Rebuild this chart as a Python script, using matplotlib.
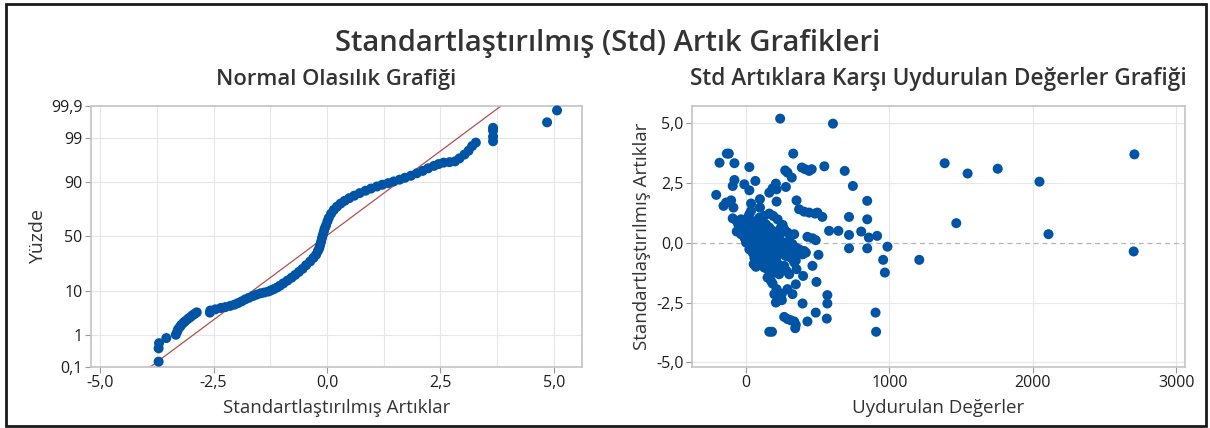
import matplotlib
matplotlib.use("Agg")
import matplotlib.pyplot as plt
from matplotlib.patches import Rectangle
from statistics import NormalDist

plt.rcParams["font.family"] = ["Open Sans", "DejaVu Sans"]

# --- normal probability plot: standardized residual vs. percent ---
qq_resid = [-3.71, -3.71, -3.70, -3.54, -3.33, -3.30, -3.28, -3.24, -3.21, -3.16,
            -3.12, -3.06, -3.01, -2.96, -2.91, -2.87, -2.58, -2.57, -2.46, -2.34,
            -2.24, -2.13, -2.04, -1.96, -1.88, -1.80, -1.72, -1.63, -1.55, -1.46,
            -1.38, -1.29, -1.23, -1.17, -1.10, -1.04, -0.96, -0.87, -0.78, -0.70,
            -0.62, -0.54, -0.46, -0.37, -0.30, -0.24, -0.20, -0.17, -0.15, -0.13,
            -0.11, -0.09, -0.07, -0.05, -0.02, 0.01, 0.04, 0.09, 0.15, 0.22,
            0.30, 0.39, 0.49, 0.60, 0.72, 0.85, 0.97, 1.10, 1.22, 1.35,
            1.47, 1.60, 1.72, 1.85, 1.98, 2.11, 2.23, 2.36, 2.46, 2.57,
            2.70, 2.82, 2.92, 3.03, 3.12, 3.20, 3.28, 3.66, 3.66, 3.66,
            3.66, 4.85, 5.07]
qq_pct = [0.15, 0.40, 0.57, 0.80, 0.99, 1.20, 1.40, 1.60, 1.80, 2.05,
          2.25, 2.55, 2.80, 3.10, 3.35, 3.60, 3.55, 3.95, 4.20, 4.50,
          4.70, 5.00, 5.30, 5.70, 6.20, 6.80, 7.30, 7.90, 8.40, 8.90,
          9.20, 9.60, 10.1, 10.6, 11.3, 12.1, 13.3, 14.8, 16.4, 18.1,
          20.0, 22.1, 24.8, 27.7, 30.5, 33.2, 36.5, 39.0, 42.0, 45.0,
          48.5, 51.5, 54.5, 57.5, 60.5, 64.0, 67.0, 70.5, 73.5, 76.0,
          78.2, 80.1, 81.8, 83.3, 84.8, 86.1, 87.2, 88.2, 89.0, 89.7,
          90.4, 91.1, 91.8, 92.5, 93.3, 94.0, 94.7, 95.3, 95.7, 96.0,
          96.1, 96.25, 96.8, 97.4, 97.9, 98.4, 98.7, 98.8, 99.1, 99.4,
          99.5, 99.66, 99.86]
fit_mu = -0.03
fit_sigma = 1.249
pct_ticks = [0.1, 1, 10, 50, 90, 99, 99.9]
pct_labels = ["0,1", "1", "10", "50", "90", "99", "99,9"]

# --- residuals vs fitted values ---
fitted = [238, 606, -134, -120, -185, -81, 23, 329, 273, 289,
          319, 389, 412, 440, 458, 546, 688, 745, 845, 845,
          718, 718, 718, 845, 803, 644, 579, 856, 914, 986,
          956, 968, 903, 907, 1208, 1385, 1545, 1755, 1466, 2046,
          2109, 2708, 2703,
          -208, -157, -139, -104, -88, -93, -81, -12, 23, 65,
          97, 97, 35, -93, -65, -51, -65, 162, 185, 208,
          213, 278, 213, 352, 162, 190, 220, 255, 266, 289,
          370, 405, 440, 481, 498, 532, 428, 463, 486, 312,
          336, 417, 394, 370, 347, 505, 463, 491, 398, 352,
          336, 347, 324, 394, 486, 567, 567, 563, 428, 312,
          336, 347, 343, 266, 289, 162, 181, 208, 231, 250,
          197, 213, 250, 289, 174, 185, 150, 69, 53, 81,
          -58, -35, -12, 12, 23, 35, -46, -23, 0, 23,
          46, 69, 93, 127, -35, -12, 12, 35, 58, 81,
          104, 139, 162, 185, 208, 231, 0, 23, 46, 69,
          93, 116, 139, 174, 197, 220, 243, 266, 301, 324,
          347, 370, 405, 23, 46, 69, 93, 116, 139, 162,
          185, 208, 243, 278, 312, 347, 58, 81, 104, 127,
          150, 174, 197, 220, 243, 266, 282, 301, 231, 197,
          150, 127, 162, 116, 220, 289, 150, 35, 243, 266,
          312,
          10, 30, 60, 80, 100, 120, 130, 150, 170, 190,
          200, 60, -20, -10, 110, 220, 250, 180, 140]
std_resid = [5.17, 4.96, 3.71, 3.71, 3.33, 3.31, 3.15, 3.71, 3.01, 2.92,
             2.71, 3.13, 3.06, 2.99, 3.06, 3.18, 2.99, 2.36, 1.74, 0.97,
             1.07, 0.32, -0.24, -0.24, 0.46, 0.49, 0.49, 0.21, 0.28, -0.17,
             -0.72, -1.25, -2.92, -3.72, -0.72, 3.31, 2.88, 3.08, 0.81, 2.54,
             0.35, 3.68, -0.37,
             1.99, 1.53, 1.67, 1.76, 1.46, 2.36, 2.61, 2.43, 2.18, 2.57,
             1.81, 1.46, 1.63, 1.01, 0.90, 0.69, 0.46, 2.08, 2.26, 2.46,
             2.22, 2.32, 1.71, 1.76, 1.21, 1.11, 0.97, 0.74, 0.56, 0.42,
             1.39, 1.29, 1.25, 1.21, 1.25, 1.07, 0.24, 0.18, 0.10, 0.28,
             0.35, -0.42, -0.49, -0.46, -0.51, -0.51, -0.97, -1.64, -1.39, -1.11,
             -0.83, -1.74, -2.15, -2.54, -2.92, -2.19, -2.54, -3.17, -3.29, -3.24,
             -3.29, -3.43, -3.57, -3.10, -3.19, -3.72, -3.72, -2.50, -2.40, -2.40,
             -2.15, -1.94, -2.13, -1.94, -1.60, -1.71, -1.46, -1.01, -0.90, -0.74,
             0.83, 0.97, 0.90, 1.04, 1.18, 1.32, 0.56, 0.69, 0.49, 0.63,
             0.76, 0.90, 1.04, 1.11, 0.35, 0.21, 0.28, 0.38, 0.46, 0.56,
             0.65, 0.76, 0.63, 0.49, 0.35, 0.24, 0.00, -0.10, -0.04, 0.04,
             0.10, 0.14, 0.21, 0.18, 0.00, 0.07, -0.07, 0.00, 0.07, -0.07,
             -0.21, -0.28, -0.35, -0.28, -0.42, -0.35, -0.24, -0.32, -0.21, -0.42,
             -0.28, -0.49, -0.42, -0.56, -0.63, -0.74, -0.63, -0.56, -0.69, -0.83,
             -0.74, -0.90, -1.01, -0.88, -1.11, -0.97, -1.18, -1.32, -1.32, -1.25,
             -1.11, -1.04, -0.07, -0.07, -0.21, -0.28, 0.42, 0.14, 0.63, -0.21,
             -0.42,
             0.35, 0.15, -0.15, 0.30, -0.45, 0.45, -0.55, 0.05, -0.60, 0.30,
             -0.75, 0.60, 0.55, 0.75, 0.80, -0.55, -0.30, -1.15, -0.90]

blue = "#0054a6"
grid_c = "#e6e6e6"
spine_c = "#c3c3c3"
text_c = "#333333"

fig = plt.figure(figsize=(12.1, 4.28), dpi=100)
fig.patch.set_facecolor("white")
fig.patches.append(Rectangle((0.005, 0.005), 0.992, 0.985, transform=fig.transFigure,
                             fill=False, edgecolor="#1a1a1a", linewidth=2))

fig.text(0.502, 0.899, "Standartlaştırılmış (Std) Artık Grafikleri", ha="center",
         va="center", fontsize=21, fontweight="semibold", color=text_c)

nd = NormalDist()


def style(ax):
    for s in ax.spines.values():
        s.set_color(spine_c)
        s.set_linewidth(1.2)
    ax.tick_params(length=4, width=0.8, color="#999999", labelsize=11.5,
                   labelcolor="#1e1e1e", pad=2)
    ax.set_axisbelow(True)


# left: normal probability plot
ax1 = fig.add_axes([0.0752, 0.143, 0.4058, 0.609])
style(ax1)
ax1.set_xlim(-5.2, 5.62)
ax1.set_ylim(nd.inv_cdf(0.001), nd.inv_cdf(0.999))
for v in [-5, -3.75, -2.5, -1.25, 0, 1.25, 2.5, 3.75, 5]:
    ax1.axvline(v, color=grid_c, lw=0.8, zorder=0)
zt = [nd.inv_cdf(p / 100) for p in pct_ticks]
for z in zt[1:-1]:
    ax1.axhline(z, color=grid_c, lw=0.8, zorder=0)
ax1.set_yticks(zt)
ax1.set_yticklabels(pct_labels)
ax1.set_xticks([-5, -2.5, 0, 2.5, 5])
ax1.set_xticklabels(["-5,0", "-2,5", "0,0", "2,5", "5,0"])
lx = [-6, 6]
ax1.plot(lx, [(x - fit_mu) / fit_sigma for x in lx], color="#b0524c", lw=0.9, zorder=2)
ax1.scatter(qq_resid, [nd.inv_cdf(p / 100) for p in qq_pct], s=52, color=blue,
            edgecolors="none", zorder=3, clip_on=False)
ax1.set_title("Normal Olasılık Grafiği", fontsize=15.8, fontweight="semibold",
              color=text_c, pad=15)
ax1.set_xlabel("Standartlaştırılmış Artıklar", fontsize=13.5, color=text_c, labelpad=6)
ax1.set_ylabel("Yüzde", fontsize=14, color=text_c, labelpad=3)

# right: residuals vs fitted
ax2 = fig.add_axes([0.572, 0.143, 0.407, 0.609])
style(ax2)
ax2.set_xlim(-376, 3058)
ax2.set_ylim(-5.18, 5.69)
for v in [0, 1000, 2000, 3000]:
    ax2.axvline(v, color=grid_c, lw=0.8, zorder=0)
for v in [-5, -2.5, 2.5, 5]:
    ax2.axhline(v, color=grid_c, lw=0.8, zorder=0)
ax2.axhline(0, color="#b5b5b5", lw=0.9, ls=(0, (4, 3)), zorder=1)
ax2.set_xticks([0, 1000, 2000, 3000])
ax2.set_yticks([-5, -2.5, 0, 2.5, 5])
ax2.set_yticklabels(["-5,0", "-2,5", "0,0", "2,5", "5,0"])
ax2.scatter(fitted, std_resid, s=52, color=blue, edgecolors="none", zorder=3)
ax2.set_title("Std Artıklara Karşı Uydurulan Değerler Grafiği", fontsize=16.3,
              fontweight="semibold", color=text_c, pad=15)
ax2.set_xlabel("Uydurulan Değerler", fontsize=13.5, color=text_c, labelpad=6)
ax2.set_ylabel("Standartlaştırılmış Artıklar", fontsize=13.5, color=text_c, labelpad=4)

fig.savefig("out.png", dpi=100)
